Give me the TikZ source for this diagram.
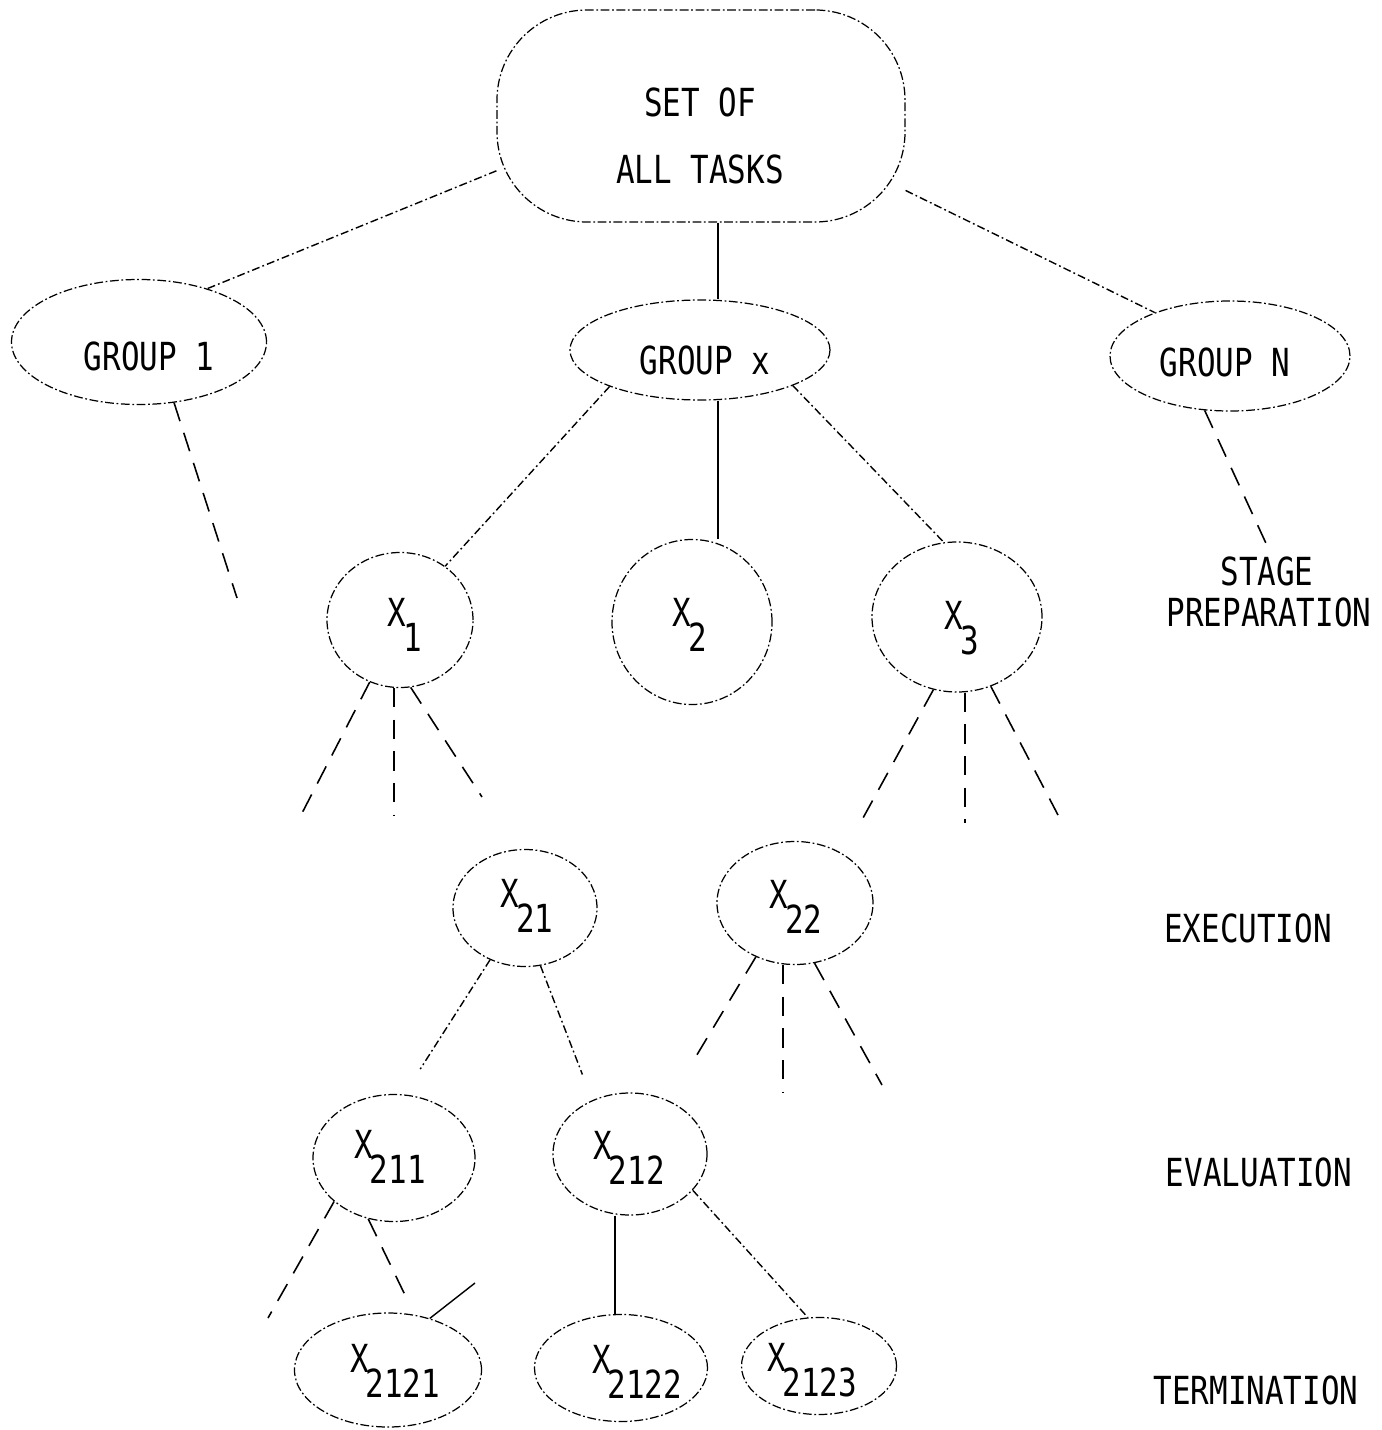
\documentclass[tikz,border=0pt]{standalone}
\usepackage{fontspec}
\setmonofont[FakeStretch=0.8]{DejaVu Sans Mono}
\usetikzlibrary{shapes.geometric,calc}
\newcommand{\lbl}{\ttfamily\fontsize{22}{26}\selectfont}
\newcommand{\Xsub}[1]{X\kern-0.08em\raisebox{-0.5cm}{#1}}
\def\u{0.02cm}
\tikzset{
  blob/.style={ellipse, draw, line width=0.7pt, inner sep=0pt,
    dash pattern=on 5pt off 1.5pt on 1pt off 1.5pt},
  topbox/.style={rectangle, rounded corners=1.8cm, draw, line width=0.7pt, inner sep=0pt,
    dash pattern=on 5pt off 1.5pt on 1pt off 1.5pt},
  txt/.style={font=\lbl, inner sep=0pt, align=center},
  solidc/.style={line width=0.8pt},
  ddc/.style={line width=0.8pt, dash pattern=on 4.5pt off 1.8pt on 1pt off 1.8pt},
  dshc/.style={line width=0.9pt, dash pattern=on 11pt off 7pt},
}
\begin{document}
\begin{tikzpicture}[x=0.02cm, y=-0.02cm]
\useasboundingbox (0,0) rectangle (1382,1430);

% shapes
\node[topbox, minimum width=408*\u, minimum height=212*\u] (top) at (701,116) {};
\node[blob, minimum width=255*\u, minimum height=125*\u] (g1) at (139,342) {};
\node[blob, minimum width=260*\u, minimum height=100*\u] (gx) at (700,350) {};
\node[blob, minimum width=240*\u, minimum height=110*\u] (gN) at (1230,356) {};
\node[blob, minimum width=146*\u, minimum height=135*\u] (x1) at (400,620) {};
\node[blob, minimum width=160*\u, minimum height=165*\u] (x2) at (692,622) {};
\node[blob, minimum width=170*\u, minimum height=150*\u] (x3) at (957,617) {};
\node[blob, minimum width=144*\u, minimum height=117*\u] (x21) at (525,908) {};
\node[blob, minimum width=156*\u, minimum height=123*\u] (x22) at (795,903) {};
\node[blob, minimum width=162*\u, minimum height=127*\u] (x211) at (394,1158) {};
\node[blob, minimum width=154*\u, minimum height=122*\u] (x212) at (630,1154) {};
\node[blob, minimum width=187*\u, minimum height=114*\u] (x2121) at (388,1370) {};
\node[blob, minimum width=173*\u, minimum height=107*\u] (x2122) at (621,1368) {};
\node[blob, minimum width=155*\u, minimum height=97*\u] (x2123) at (819,1366) {};

% texts
\node[txt] (toptxt) at (700,136) {SET OF\\[12pt]ALL TASKS};
\node[txt] (g1t) at (149,356) {GROUP 1};
\node[txt] (gxt) at (705,360) {GROUP x};
\node[txt] (gNt) at (1225,362) {GROUP N};
\node[txt] (x1t) at (405,625) {\Xsub{1}};
\node[txt] (x2t) at (690,625) {\Xsub{2}};
\node[txt] (x3t) at (962,628) {\Xsub{3}};
\node[txt] (x21t) at (527,906) {\Xsub{21}};
\node[txt] (x22t) at (796,907) {\Xsub{22}};
\node[txt] (x211t) at (390,1157) {\Xsub{211}};
\node[txt] (x212t) at (629,1158) {\Xsub{212}};
\node[txt] (x2121t) at (395,1371) {\Xsub{2121}};
\node[txt] (x2122t) at (637,1372) {\Xsub{2122}};
\node[txt] (x2123t) at (812,1370) {\Xsub{2123}};

% stage labels
\node[txt] (stage) at (1267,571) {STAGE};
\node[txt] (prep) at (1269,612) {PREPARATION};
\node[txt] (exec) at (1248,928) {EXECUTION};
\node[txt] (eval) at (1259,1172) {EVALUATION};
\node[txt] (term) at (1256,1390) {TERMINATION};

% helper coordinates
\coordinate (v1) at (718,0);
\coordinate (v2) at (615,0);
\coordinate (g1e) at (237,598);
\coordinate (gNe) at (1270,552);
\coordinate (x1a) at (300,817);
\coordinate (x1b) at (394,815);
\coordinate (x1c) at (482,797);
\coordinate (x3a) at (863,818);
\coordinate (x3b) at (965,823);
\coordinate (x3c) at (1058,815);
\coordinate (x22a) at (692,1063);
\coordinate (x22b) at (783,1093);
\coordinate (x22c) at (882,1085);
\coordinate (x211a) at (268,1318);
\coordinate (x211b) at (405,1295);
\coordinate (x2121s) at (475,1283);

% connectors
\draw[ddc] (top.195) -- (g1.38);
\draw[solidc] (top.south -| v1) -- (gx.north -| v1);
\draw[ddc] (top.340) -- (gN.150);
\draw[dshc] (g1.-60) -- (g1e);
\draw[dshc] (gN.245) -- (gNe);
\draw[ddc] (gx.202) -- (x1.50);
\draw[solidc] (gx.south -| v1) -- (x2.north -| v1);
\draw[ddc] (gx.-21) -- (x3.100);
\draw[dshc] (x1.244) -- (x1a);
\draw[dshc] (x1.south -| x1b) -- (x1b);
\draw[dshc] (x1.279) -- (x1c);
\draw[dshc] (x3.252) -- (x3a);
\draw[dshc] (x3.south -| x3b) -- (x3b);
\draw[dshc] (x3.296) -- (x3c);
\draw[ddc, shorten >=0.6cm] (x21.236) -- (x211.81);
\draw[ddc, shorten >=0.55cm] (x21.285) -- (x212.125);
\draw[dshc] (x22.234) -- (x22a);
\draw[dshc] (x22.south -| x22b) -- (x22b);
\draw[dshc] (x22.288) -- (x22c);
\draw[dshc] (x211.216) -- (x211a);
\draw[dshc] (x211.247) -- (x211b);
\draw[solidc] (x2121s) -- (x2121.51);
\draw[solidc] (x212.south -| v2) -- (x2122.north -| v2);
\draw[ddc] (x212.-30) -- (x2123.103);
\end{tikzpicture}
\end{document}
